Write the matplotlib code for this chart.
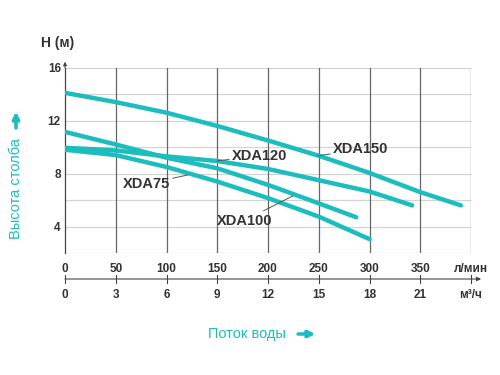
import matplotlib
matplotlib.use('Agg')
import matplotlib.pyplot as plt
from matplotlib.transforms import blended_transform_factory

plt.rcParams['font.family'] = ['Liberation Sans', 'DejaVu Sans']

# Расход (л/мин) и напор (м) для каждого насоса
x_150 = [0, 50, 100, 150, 200, 250, 300, 350, 390]
h_150 = [14.1, 13.4, 12.6, 11.6, 10.5, 9.35, 8.05, 6.6, 5.6]

x_120 = [0, 50, 100, 150, 200, 250, 300, 342]
h_120 = [9.95, 9.75, 9.3, 8.95, 8.35, 7.5, 6.65, 5.6]

x_100 = [0, 50, 100, 150, 200, 250, 287]
h_100 = [11.15, 10.2, 9.2, 8.4, 7.15, 5.75, 4.7]

x_75 = [0, 50, 100, 150, 200, 250, 300]
h_75 = [9.8, 9.4, 8.5, 7.4, 6.15, 4.75, 3.05]

ticks_lmin = [0, 50, 100, 150, 200, 250, 300, 350, 400]
labels_lmin = ['0', '50', '100', '150', '200', '250', '300', '350', 'л/мин']
labels_m3h = ['0', '3', '6', '9', '12', '15', '18', '21', 'м³/ч']
ticks_h = [4, 8, 12, 16]

teal = '#1cbdbf'
dark = '#333333'

fig = plt.figure(figsize=(5, 3.75), dpi=100)
ax = fig.add_axes([0.13, 0.3253, 0.812, 0.4942])

# сетка
for y in range(2, 17, 2):
    ax.axhline(y, color='#d4d4d4', lw=0.9, zorder=1)
for x in range(50, 401, 50):
    ax.axvline(x, color='#666666', lw=0.9, zorder=1)

for s in ['top', 'right', 'bottom']:
    ax.spines[s].set_visible(False)
ax.spines['left'].set_color('#444444')
ax.spines['left'].set_linewidth(0.9)

kw = dict(color=teal, lw=3.2, solid_capstyle='round', zorder=3)
ax.plot(x_150, h_150, **kw)
ax.plot(x_120, h_120, **kw)
ax.plot(x_100, h_100, **kw)
ax.plot(x_75, h_75, **kw)

ax.set_xlim(0, 400)
ax.set_ylim(2, 16)

ax.set_xticks(ticks_lmin)
ax.set_xticklabels(labels_lmin)
ax.set_yticks(ticks_h)
ax.tick_params(axis='both', length=0, labelsize=8.5, labelcolor=dark)
ax.tick_params(axis='x', pad=7)
ax.tick_params(axis='y', pad=3)
for t in ax.get_xticklabels() + ax.get_yticklabels():
    t.set_fontweight('bold')

# стрелка оси Y
ax.annotate('', xy=(0, 16.45), xytext=(0, 16), xycoords='data',
            annotation_clip=False,
            arrowprops=dict(arrowstyle='-|>', color='#444444', lw=0.8,
                            mutation_scale=5, shrinkA=0, shrinkB=0))

# подписи кривых
lab = dict(fontsize=10.5, fontweight='bold', color=dark, va='center')
line = dict(arrowstyle='-', color='#555555', lw=0.7, shrinkA=0, shrinkB=0)
ax.annotate('XDA150', xy=(249, 9.34), xytext=(264, 9.84), ha='left',
            arrowprops=line, **lab)
ax.annotate('XDA120', xy=(150, 8.96), xytext=(164.5, 9.34), ha='left',
            arrowprops=line, **lab)
ax.annotate('XDA100', xy=(224.6, 6.32), xytext=(204, 4.45), ha='right',
            arrowprops=line, **lab)
ax.annotate('XDA75', xy=(121, 7.9), xytext=(103.4, 7.2), ha='right',
            arrowprops=line, **lab)

# вторая шкала: м³/ч
tr = blended_transform_factory(ax.transData, fig.transFigure)
y_ax2 = 1 - 279 / 375
ax.annotate('', xy=(410, y_ax2), xytext=(0, y_ax2), xycoords=tr, textcoords=tr,
            annotation_clip=False,
            arrowprops=dict(arrowstyle='-|>', color='#444444', lw=0.8,
                            mutation_scale=6, shrinkA=0, shrinkB=0))
for x, lbl in zip(ticks_lmin, labels_m3h):
    ax.plot([x, x], [y_ax2 - 4 / 375, y_ax2 + 4 / 375], transform=tr,
            color='#444444', lw=0.8, clip_on=False)
    ax.text(x, 1 - 295 / 375, lbl, transform=tr, ha='center', va='center',
            fontsize=8.5, fontweight='bold', color=dark)

# заголовки осей
fig.text(58 / 500, 1 - 43 / 375, 'H (м)', ha='center', va='center',
         fontsize=10, fontweight='bold', color=dark)
fig.text(16 / 500, 1 - 189 / 375, 'Высота столба', rotation=90,
         ha='center', va='center', fontsize=10.5, color=teal)
fig.text(247 / 500, 1 - 334 / 375, 'Поток воды', ha='center', va='center',
         fontsize=10.5, color=teal)

arr = dict(arrowstyle='-|>', color=teal, lw=2.2, mutation_scale=10,
           shrinkA=0, shrinkB=0)
fig.add_artist(plt.annotate('', xy=(16 / 500, 1 - 112 / 375),
                            xytext=(16 / 500, 1 - 128 / 375),
                            xycoords='figure fraction', arrowprops=arr))
fig.add_artist(plt.annotate('', xy=(315 / 500, 1 - 334 / 375),
                            xytext=(298 / 500, 1 - 334 / 375),
                            xycoords='figure fraction', arrowprops=arr))

fig.savefig('out.png', dpi=100)
